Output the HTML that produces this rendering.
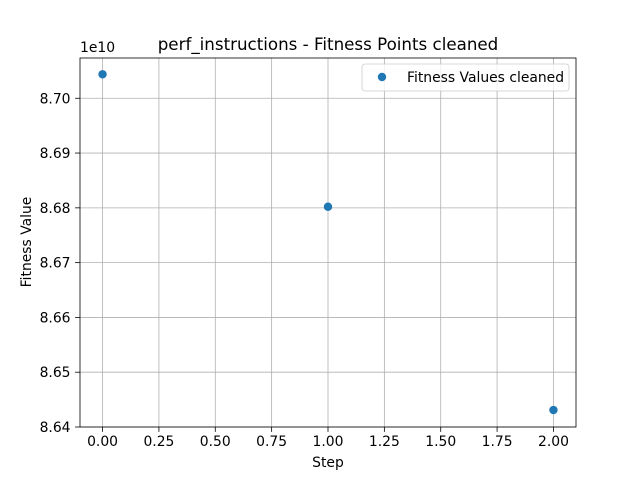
<!DOCTYPE html>
<html><head><meta charset="utf-8"><style>
body{margin:0;background:#fff;}
svg{display:block;font-family:"DejaVu Sans","Liberation Sans",sans-serif;}
</style></head><body>
<svg id="chart" width="640" height="480" viewBox="0 0 640 480">
<rect width="640" height="480" fill="#fff"/>
<g id="grid"></g>
<g id="xticks"></g>
<g id="yticks"></g>
<g id="points"></g>
<rect x="80" y="58" width="496" height="369" fill="none" stroke="#000" stroke-width="0.8"/>
<text x="328" y="50" font-size="16.7" text-anchor="middle">perf_instructions - Fitness Points cleaned</text>
<text x="328" y="467" font-size="13.9" text-anchor="middle">Step</text>
<text x="31" y="242" font-size="13.9" text-anchor="middle" transform="rotate(-90 31 242)">Fitness Value</text>
<text x="80" y="52" font-size="13.9">1e10</text>
<g>
<rect x="362" y="64" width="207" height="27" rx="3" fill="#fff" fill-opacity="0.8" stroke="#ccc" stroke-width="0.8"/>
<circle cx="382" cy="77" r="4.2" fill="#1f77b4"/>
<text x="407" y="82" font-size="13.9">Fitness Values cleaned</text>
</g>
</svg>
<script>
const steps=[0,1,2];
const fitness=[8.70438,8.6802,8.6431];
const xTickLabels=["0.00","0.25","0.50","0.75","1.00","1.25","1.50","1.75","2.00"];
const yTickLabels=["8.64","8.65","8.66","8.67","8.68","8.69","8.70"];
const NS="http://www.w3.org/2000/svg";
const L=80,R=576,T=58,B=427;
const xmin=-0.1,xmax=2.1;
const ymin=8.6400,ymax=8.70735;
const xs=v=>L+(v-xmin)/(xmax-xmin)*(R-L);
const ys=v=>B-(v-ymin)/(ymax-ymin)*(B-T);
function mk(t,a,p){const e=document.createElementNS(NS,t);for(const k in a)e.setAttribute(k,a[k]);p.appendChild(e);return e;}
const g=document.getElementById('grid'),gx=document.getElementById('xticks'),gy=document.getElementById('yticks'),gp=document.getElementById('points');
xTickLabels.forEach(s=>{const v=parseFloat(s),x=xs(v);
 const l=mk('line',{x1:x,x2:x,y1:T,y2:B,stroke:'#b0b0b0','stroke-width':0.8},g);
 
 
 const tk=mk('line',{x1:x,x2:x,y1:B,y2:B+4.9,stroke:'#000','stroke-width':0.8},gx);
 
 
 const t=mk('text',{x:x,y:B+19,'font-size':13.9,'text-anchor':'middle'},gx);t.textContent=s;
 
 
});
yTickLabels.forEach(s=>{const v=parseFloat(s),y=ys(v);
 const l=mk('line',{x1:L,x2:R,y1:y,y2:y,stroke:'#b0b0b0','stroke-width':0.8},g);
 
 
 const tk=mk('line',{x1:L-4.9,x2:L,y1:y,y2:y,stroke:'#000','stroke-width':0.8},gy);
 
 
 const t=mk('text',{x:L-9.5,y:y+5,'font-size':13.9,'text-anchor':'end'},gy);t.textContent=s;
 
 
});
steps.forEach((s,i)=>{
 const c=mk('circle',{cx:xs(s),cy:ys(fitness[i]),r:4.2,fill:'#1f77b4'},gp);
 
 
});
</script>
</body></html>
